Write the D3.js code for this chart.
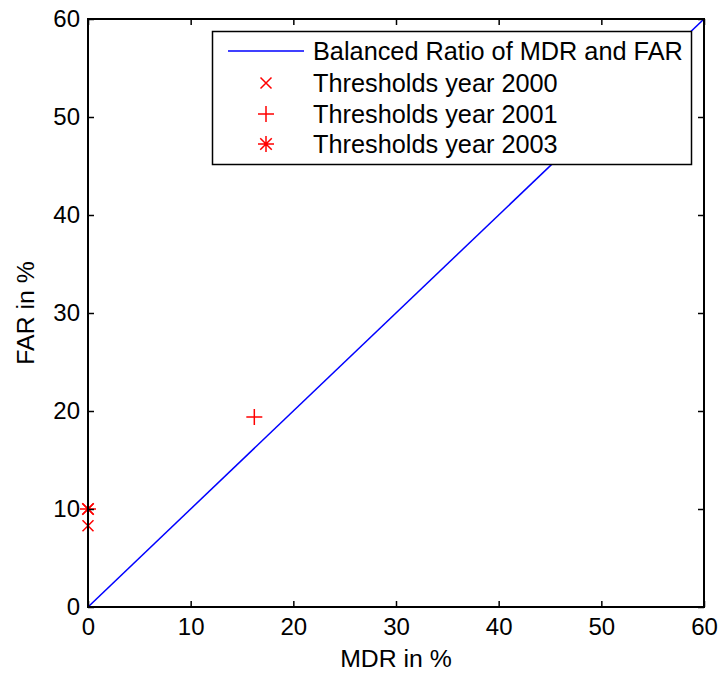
<!DOCTYPE html>
<html>
<head>
<meta charset="utf-8">
<script src="https://cdn.jsdelivr.net/npm/d3@7"></script>
<style>
  body { margin: 0; background: #fff; }
  svg { display: block; font-family: "Liberation Sans", Arial, sans-serif; }
</style>
</head>
<body>
<svg id="chart" width="720" height="677"></svg>
<script>
// Axis ticks
const xTicks = [0, 10, 20, 30, 40, 50, 60];
const yTicks = [0, 10, 20, 30, 40, 50, 60];

// Balanced ratio line (MDR = FAR)
const balancedLine = [[0, 0], [60, 60]];

// Threshold points [MDR, FAR]
const thresholds2000 = [[0, 8.3], [0, 10.0]];
const thresholds2001 = [[16.2, 19.4]];
const thresholds2003 = [[0, 10.0]];

const legendLabels = [
  "Balanced Ratio of MDR and FAR",
  "Thresholds year 2000",
  "Thresholds year 2001",
  "Thresholds year 2003"
];

const svg = d3.select("#chart");
const m = { left: 88, top: 19, right: 704, bottom: 607 };
const x = d3.scaleLinear().domain([0, 60]).range([m.left, m.right]);
const y = d3.scaleLinear().domain([0, 60]).range([m.bottom, m.top]);
const red = "#ff0000", blue = "#0000ff";
const fs = 24;
const mw = 1.5;

// clip for the data
svg.append("clipPath").attr("id", "clip").append("rect")
  .attr("x", m.left).attr("y", m.top).attr("width", m.right - m.left).attr("height", m.bottom - m.top);

const plot = svg.append("g").attr("clip-path", "url(#clip)");

plot.append("path")
  .datum(balancedLine)
  .attr("d", d3.line().x(d => x(d[0])).y(d => y(d[1])))
  .attr("fill", "none").attr("stroke", blue).attr("stroke-width", 1.5);

// Marker shapes
function cross(g, s) {
  g.append("path").attr("d", `M${-s},${-s}L${s},${s}M${-s},${s}L${s},${-s}`);
}
function plus(g, s) {
  g.append("path").attr("d", `M${-s},0L${s},0M0,${-s}L0,${s}`);
}
function star(g, s) {
  const d = s * 0.72;
  g.append("path").attr("d", `M${-s},0L${s},0M0,${-s}L0,${s}M${-d},${-d}L${d},${d}M${-d},${d}L${d},${-d}`);
}

function drawMarkers(data, fn, s) {
  data.forEach(p => {
    const g = svg.append("g")
      .attr("transform", `translate(${x(p[0])},${y(p[1])})`)
      .attr("stroke", red).attr("stroke-width", mw).attr("fill", "none");
    fn(g, s);
  });
}
drawMarkers(thresholds2000, cross, 5.5);
drawMarkers(thresholds2001, plus, 8);
drawMarkers(thresholds2003, star, 8);

// Frame
svg.append("rect")
  .attr("x", m.left).attr("y", m.top)
  .attr("width", m.right - m.left).attr("height", m.bottom - m.top)
  .attr("fill", "none").attr("stroke", "#000").attr("stroke-width", 2);

const tl = 6;
const xAxisG = svg.append("g").attr("transform", `translate(0,${m.bottom})`)
  .call(d3.axisBottom(x).tickValues(xTicks).tickSize(-tl).tickPadding(11).tickFormat(d3.format("d")));
const xTopG = svg.append("g").attr("transform", `translate(0,${m.top})`)
  .call(d3.axisTop(x).tickValues(xTicks).tickSize(-tl).tickFormat(""));
const yAxisG = svg.append("g").attr("transform", `translate(${m.left},0)`)
  .call(d3.axisLeft(y).tickValues(yTicks).tickSize(-tl).tickPadding(8).tickFormat(d3.format("d")));
const yRightG = svg.append("g").attr("transform", `translate(${m.right},0)`)
  .call(d3.axisRight(y).tickValues(yTicks).tickSize(-tl).tickFormat(""));

[xAxisG, xTopG, yAxisG, yRightG].forEach(g => {
  g.select(".domain").remove();
  g.selectAll("line").attr("stroke", "#000").attr("stroke-width", 1.5);
  g.selectAll("text").attr("fill", "#000").style("font-size", fs + "px").style("font-family", "'Liberation Sans', Arial, sans-serif");
});
xAxisG.selectAll("text").attr("dy", "0.71em");

// Axis labels
svg.append("text")
  .attr("x", 396).attr("y", 667)
  .attr("text-anchor", "middle").style("font-size", "24.8px").text("MDR in %");
svg.append("text")
  .attr("transform", `translate(34,${(m.top + m.bottom) / 2}) rotate(-90)`)
  .attr("text-anchor", "middle").style("font-size", "24.8px").text("FAR in %");

// Legend
const lg = svg.append("g");
lg.append("rect")
  .attr("x", 212.5).attr("y", 31.5).attr("width", 479).attr("height", 133)
  .attr("fill", "#fff").attr("stroke", "#000").attr("stroke-width", 1.5);
const rowY = [51, 83, 114, 144];
const markerX = 266;
lg.append("line").attr("x1", 228).attr("x2", 304).attr("y1", rowY[0]).attr("y2", rowY[0])
  .attr("stroke", blue).attr("stroke-width", 1.5);
[[cross, 5.5], [plus, 8], [star, 8]].forEach(([fn, s], i) => {
  const g = lg.append("g").attr("transform", `translate(${markerX},${rowY[i + 1]})`)
    .attr("stroke", red).attr("stroke-width", mw).attr("fill", "none");
  fn(g, s);
});
legendLabels.forEach((t, i) => {
  lg.append("text").attr("x", 313).attr("y", rowY[i]).attr("dy", "0.35em")
    .style("font-size", "25.3px").text(t);
});
</script>
</body>
</html>
